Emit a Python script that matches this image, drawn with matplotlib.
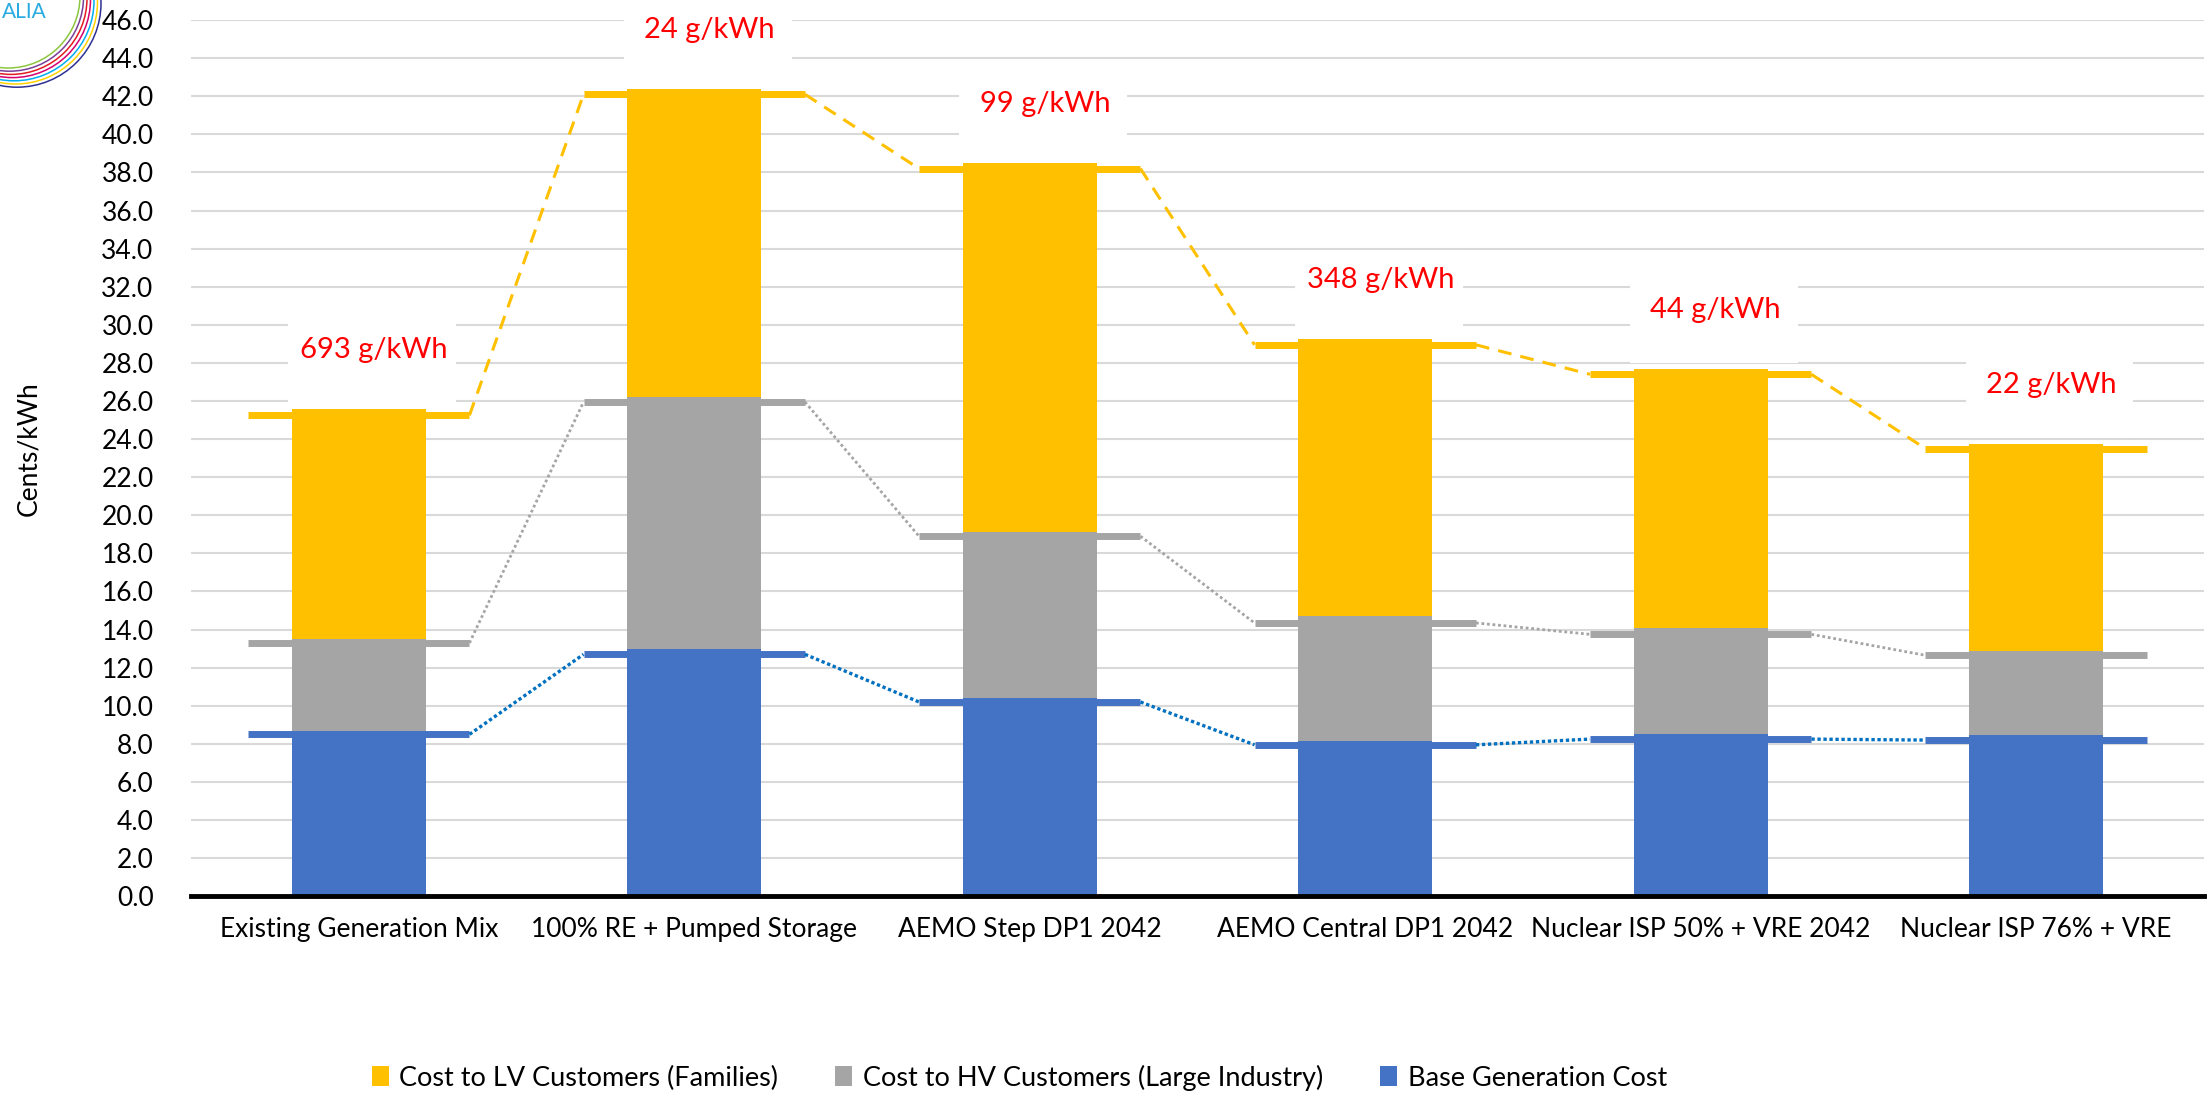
import matplotlib.pyplot as plt
import numpy as np
from matplotlib.patches import Rectangle, Ellipse
from matplotlib.ticker import FormatStrFormatter

plt.rcParams['font.family'] = ['Lato', 'DejaVu Sans']

categories = ["Existing Generation Mix", "100% RE + Pumped Storage", "AEMO Step DP1 2042",
              "AEMO Central DP1 2042", "Nuclear ISP 50% + VRE 2042", "Nuclear ISP 76% + VRE"]

# stacked bar segments (cents/kWh)
base_cost = [8.7, 13.0, 10.4, 8.15, 8.5, 8.45]
hv_cost = [4.8, 13.2, 8.7, 6.55, 5.6, 4.45]
lv_cost = [12.1, 16.2, 19.4, 14.55, 13.6, 10.85]

# levels of the connecting marker lines
base_line = [8.5, 12.7, 10.2, 7.95, 8.25, 8.2]
hv_line = [13.3, 25.95, 18.9, 14.35, 13.75, 12.65]
lv_line = [25.25, 42.1, 38.2, 28.95, 27.4, 23.5]

emissions = ["693 g/kWh", "24 g/kWh", "99 g/kWh", "348 g/kWh", "44 g/kWh", "22 g/kWh"]

series_names = ["Cost to LV Customers (Families)",
                "Cost to HV Customers (Large Industry)",
                "Base Generation Cost"]

yticks = np.arange(0, 46.1, 2)

YELLOW = '#FFC000'
GREY = '#A5A5A5'
BLUE = '#4472C4'
FS = 19

fig = plt.figure(figsize=(22.11, 10.95), dpi=100)
ax = fig.add_axes([0.0864, 0.1815, 0.9104, 0.8002])

x = np.arange(len(categories))
base = np.array(base_cost)
hv = np.array(hv_cost)
lv = np.array(lv_cost)

# bars on top of the lines
b_lv = ax.bar(x, lv, bottom=base + hv, width=0.4, color=YELLOW, zorder=3, label=series_names[0])
b_hv = ax.bar(x, hv, bottom=base, width=0.4, color=GREY, zorder=3, label=series_names[1])
b_base = ax.bar(x, base, width=0.4, color=BLUE, zorder=3, label=series_names[2])

# marker dashes + connectors (connectors go from the end of one dash to the start of the next)
hw = 0.33
line_specs = [
    (lv_line, YELLOW, YELLOW, dict(lw=2.2, dashes=(4.5, 3))),
    (hv_line, GREY, GREY, dict(lw=2.0, dashes=(1, 1))),
    (base_line, BLUE, '#0070C0', dict(lw=2.4, dashes=(1, 0.8))),
]
for vals, mcol, lcol, style in line_specs:
    for i in range(len(vals)):
        ax.plot([i - hw, i + hw], [vals[i], vals[i]], color=mcol, lw=5,
                solid_capstyle='butt', zorder=2)
        if i < len(vals) - 1:
            ax.plot([i + hw, i + 1 - hw], [vals[i], vals[i + 1]], color=lcol,
                    zorder=2, **style)

# emission labels in white boxes
tops = base + hv + lv
for i in range(len(categories)):
    ly = tops[i] + 3.1
    ax.add_patch(Rectangle((i + 0.04 - 0.25, ly - 2.8), 0.5, 4.4, facecolor='white',
                           edgecolor='none', zorder=1, clip_on=False))
    ax.text(i + 0.045, ly, emissions[i], color='#FF0000', fontsize=21,
            ha='center', va='center', zorder=5)

ax.set_xlim(-0.5, 5.5)
ax.set_ylim(0, 46)
ax.set_yticks(yticks)
ax.yaxis.set_major_formatter(FormatStrFormatter('%.1f'))
ax.set_xticks(x)
ax.set_xticklabels(categories)
ax.tick_params(axis='y', length=0, pad=27, labelsize=FS)
ax.tick_params(axis='x', length=0, pad=15, labelsize=FS)
ax.grid(axis='y', color='#D9D9D9', lw=1.5)
ax.set_axisbelow(True)
for s in ['top', 'right', 'left']:
    ax.spines[s].set_visible(False)
ax.spines['bottom'].set_linewidth(3.5)
ax.spines['bottom'].set_zorder(4)

fig.text(29 / 2211, 0.59, "Cents/kWh", rotation=90, ha='center', va='center', fontsize=FS)

fig.legend(handles=[b_lv, b_hv, b_base], loc='center', bbox_to_anchor=(0.461, 0.016),
           ncol=3, frameon=False, fontsize=19.5, handlelength=0.62, handleheight=0.73,
           handletextpad=0.4, columnspacing=2.1, borderpad=0)

# cut-off logo in the corner
ring_cols = ['#8DC63F', '#7B3F98', '#E31B23', '#D6006F', '#00AEEF', '#FFD200', '#2E3192']
for k, c in enumerate(ring_cols):
    cx, cy, r = 8 + k * 1.5, -4 + k * 1.2, 72 + k * 2
    fig.add_artist(Ellipse((cx / 2211, 1 - cy / 1095), 2 * r / 2211, 2 * r / 1095,
                           fill=False, edgecolor=c, lw=1.1, transform=fig.transFigure))
fig.text(2 / 2211, 1 - 12 / 1095, "ALIA", color='#29ABE2', fontsize=15,
         ha='left', va='center')

fig.savefig("out.png", dpi=100)
